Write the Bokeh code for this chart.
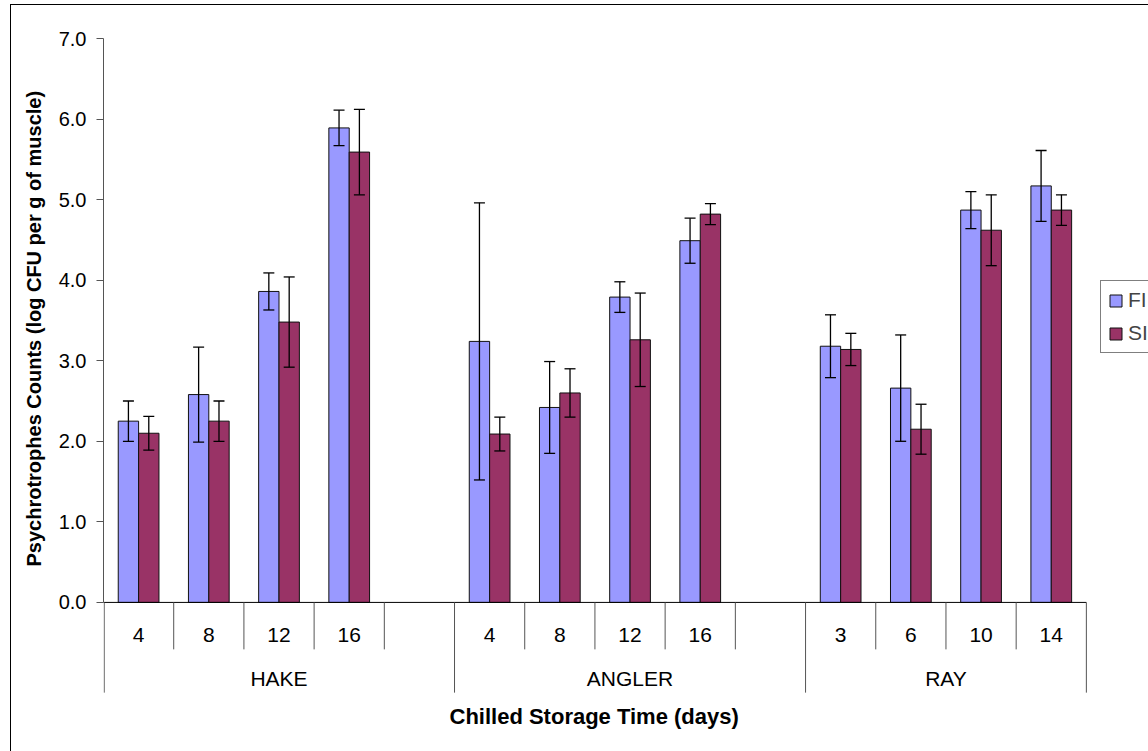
from bokeh.plotting import figure
from bokeh.models import (Range1d, ColumnDataSource, Whisker, TeeHead, Legend,
                          LegendItem, NumeralTickFormatter, FixedTicker, Title)
from bokeh.embed import file_html
from bokeh.resources import INLINE
from bokeh.core.properties import value

# ---------------- data ----------------
species = ["HAKE", "ANGLER", "RAY"]
hake_days = ["4", "8", "12", "16"]
angler_days = ["4", "8", "12", "16"]
ray_days = ["3", "6", "10", "14"]
blank_slot_after = [True, True, False]
series_names = ["FI", "SI"]

flake_ice = [2.25, 2.58, 3.86, 5.89, 3.24, 2.42, 3.79, 4.49, 3.18, 2.66, 4.87, 5.17]
flake_ice_err = [0.25, 0.59, 0.23, 0.22, 1.72, 0.57, 0.19, 0.28, 0.39, 0.66, 0.23, 0.44]
slurry_ice = [2.10, 2.25, 3.48, 5.59, 2.09, 2.60, 3.26, 4.82, 3.14, 2.15, 4.62, 4.87]
slurry_ice_err = [0.21, 0.25, 0.56, 0.53, 0.21, 0.30, 0.58, 0.13, 0.20, 0.31, 0.44, 0.19]

y_ticks = [0, 1, 2, 3, 4, 5, 6, 7]
y_title = "Psychrotrophes Counts (log CFU per g of muscle)"
x_title = "Chilled Storage Time (days)"

# ---------------- style ----------------
FONT = "Liberation Sans"
BAR_W = 0.29
FI_COLOR = "#9999FF"
SI_COLOR = "#993366"

# category slots along the x axis (one empty slot after HAKE and ANGLER)
day_lists = [hake_days, angler_days, ray_days]
slots = []
for g, dl, blank in zip(species, day_lists, blank_slot_after):
    for d in dl:
        slots.append((g, d))
    if blank:
        slots.append((g, " "))
slot_index = {s: i for i, s in enumerate(slots)}
measured = [(g, d) for g, dl in zip(species, day_lists) for d in dl]
x_mid = [slot_index[m] + 0.5 for m in measured]
group_mid = []
for g in species:
    ii = [i for i, s in enumerate(slots) if s[0] == g]
    group_mid.append((ii[0] + ii[-1] + 1) / 2)
n_slots = len(slots)

src = ColumnDataSource(dict(
    x_fi=[x - BAR_W / 2 for x in x_mid],
    x_si=[x + BAR_W / 2 for x in x_mid],
    fi=flake_ice, si=slurry_ice,
    fi_lo=[v - e for v, e in zip(flake_ice, flake_ice_err)],
    fi_hi=[v + e for v, e in zip(flake_ice, flake_ice_err)],
    si_lo=[v - e for v, e in zip(slurry_ice, slurry_ice_err)],
    si_hi=[v + e for v, e in zip(slurry_ice, slurry_ice_err)],
))

p = figure(width=1148, height=751, output_backend="svg", toolbar_location=None,
           x_range=Range1d(0, 14.885),
           y_range=Range1d(-1.168, 7),
           min_border_left=103, min_border_right=0, min_border_top=38, min_border_bottom=55)
p.xaxis.visible = False
p.xgrid.visible = False
p.ygrid.visible = False
p.outline_line_color = None
p.background_fill_color = None
p.border_fill_color = None
# chart-area border (left and top edges; the rest lies outside the window)
p.styles = {"background": "linear-gradient(#000, #000) 10px 4px / 1px 100% no-repeat, "
                          "linear-gradient(#000, #000) 10px 4px / 100% 1px no-repeat, #fff"}

# bars
r_fi = p.vbar(x="x_fi", top="fi", bottom=0, width=BAR_W, source=src,
              fill_color=FI_COLOR, line_color="#111111", line_width=1)
r_si = p.vbar(x="x_si", top="si", bottom=0, width=BAR_W, source=src,
              fill_color=SI_COLOR, line_color="#111111", line_width=1)

# error bars
for base, lo, hi in (("x_fi", "fi_lo", "fi_hi"), ("x_si", "si_lo", "si_hi")):
    w = Whisker(source=src, base=base, lower=lo, upper=hi, dimension="height",
                line_color="black", line_width=1.3, level="annotation",
                upper_head=TeeHead(size=11, line_color="black", line_width=1.3),
                lower_head=TeeHead(size=11, line_color="black", line_width=1.3))
    p.add_layout(w)

# x axis line at zero
p.segment(x0=[0], y0=[0], x1=[n_slots], y1=[0], line_color="black", line_width=1)

# category separators below the axis
sep_x, sep_y1 = [], []
for i in range(n_slots + 1):
    is_group_edge = i == 0 or i == n_slots or slots[i][0] != slots[i - 1][0]
    sep_x.append(i + (0.01 if i == 0 else 0))
    sep_y1.append(-1.12 if is_group_edge else -0.583)
p.segment(x0="x", y0=0, x1="x", y1="y1",
          source=ColumnDataSource(dict(x=sep_x, y1=sep_y1)),
          line_color="#555555", line_width=1)

# category labels
p.text(x="x", y=-0.40, text="text",
       source=ColumnDataSource(dict(x=x_mid, text=[d for g, d in measured])),
       text_font=value(FONT), text_font_size=value("21px"), text_color="black",
       text_align="center", text_baseline="middle")
p.text(x="x", y=-0.947, text="text",
       source=ColumnDataSource(dict(x=group_mid, text=species)),
       text_font=value(FONT), text_font_size=value("21px"), text_color="black",
       text_align="center", text_baseline="middle")

# y axis
ya = p.yaxis[0]
ya.ticker = FixedTicker(ticks=y_ticks)
ya.formatter = NumeralTickFormatter(format="0.0")
ya.bounds = (0, 7)
ya.minor_tick_line_color = None
ya.major_tick_in = 0
ya.major_tick_out = 7
ya.axis_line_color = "#555555"
ya.major_tick_line_color = "#555555"
ya.major_label_standoff = 10
ya.major_label_text_font = FONT
ya.major_label_text_font_size = "20px"
ya.major_label_text_color = "black"

# y axis title (placed on the left, aligned with the 0..7 span)
p.add_layout(Title(text=y_title, align="left", offset=130, standoff=22,
                   text_font=FONT, text_font_size="20px", text_font_style="bold",
                   text_color="black"), "left")

# x axis title
p.add_layout(Title(text=x_title, align="left", offset=346,
                   text_font=FONT, text_font_size="22px", text_font_style="bold",
                   text_color="black"), "below")

# legend (its right part lies beyond the window, as in the reference)
legend = Legend(items=[LegendItem(label=series_names[0], renderers=[r_fi]),
                       LegendItem(label=series_names[1], renderers=[r_si])],
                location=(997, 343), orientation="vertical",
                label_text_font=FONT, label_text_font_size="21px",
                glyph_width=15, glyph_height=15, label_standoff=5,
                padding=7, spacing=9, margin=0,
                border_line_color="black", border_line_width=1,
                background_fill_color="white", background_fill_alpha=1)
p.add_layout(legend)

open("out.html", "w").write(file_html(p, INLINE, title="Psychrotrophes Counts"))
